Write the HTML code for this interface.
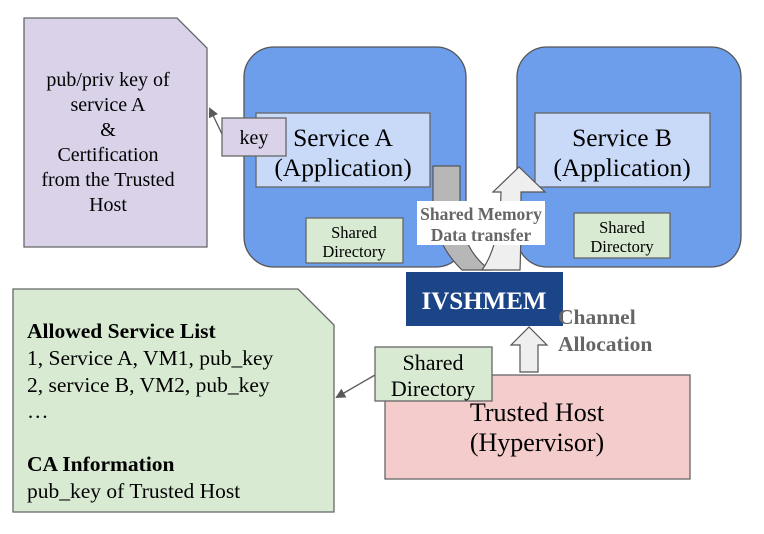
<!DOCTYPE html>
<html><head><meta charset="utf-8"><style>
body{margin:0;background:#fff;width:764px;height:529px;overflow:hidden}
svg text{font-family:"Liberation Serif",serif}
</style></head><body>
<svg width="764" height="529" viewBox="0 0 764 529" xmlns="http://www.w3.org/2000/svg">
<defs><marker id="ah" markerWidth="10" markerHeight="10" refX="8" refY="5" orient="auto" markerUnits="userSpaceOnUse"><path d="M0,0 L10,5 L0,10 Z" fill="#595959"/></marker></defs>
<!-- purple doc -->
<path d="M24,18 L177,18 L207,48 L207,247 L24,247 Z" fill="#d9d2e9" stroke="#666" stroke-width="1.3"/>
<g font-size="20" text-anchor="middle" fill="#000">
<text x="108" y="86">pub/priv key of</text>
<text x="108" y="111">service A</text>
<text x="108" y="136">&amp;</text>
<text x="108" y="161">Certification</text>
<text x="108" y="186">from the Trusted</text>
<text x="108" y="211">Host</text>
</g>
<!-- Service A -->
<rect x="244" y="47" width="222" height="220" rx="30" fill="#6d9eeb" stroke="#555" stroke-width="1.3"/>
<rect x="256" y="113" width="174" height="74" fill="#c9daf8" stroke="#666" stroke-width="1.3"/>
<text x="343" y="146" font-size="25.5" text-anchor="middle">Service A</text>
<text x="343" y="176" font-size="25.5" text-anchor="middle">(Application)</text>
<line x1="222" y1="134" x2="210" y2="109" stroke="#595959" stroke-width="1.3" marker-end="url(#ah)"/>
<rect x="222" y="118" width="64" height="38" fill="#d9d2e9" stroke="#666" stroke-width="1.3"/>
<text x="254" y="144" font-size="20" text-anchor="middle">key</text>
<rect x="306" y="218" width="97" height="45" fill="#d9ead3" stroke="#666" stroke-width="1.3"/>
<text x="354" y="238" font-size="16.5" text-anchor="middle">Shared</text>
<text x="354" y="257" font-size="16.5" text-anchor="middle">Directory</text>
<!-- Service B -->
<rect x="517" y="47" width="224" height="220" rx="30" fill="#6d9eeb" stroke="#555" stroke-width="1.3"/>
<rect x="535" y="113" width="175" height="74" fill="#c9daf8" stroke="#666" stroke-width="1.3"/>
<text x="622" y="146" font-size="25.5" text-anchor="middle">Service B</text>
<text x="622" y="176" font-size="25.5" text-anchor="middle">(Application)</text>
<rect x="574" y="213" width="96" height="45" fill="#d9ead3" stroke="#666" stroke-width="1.3"/>
<text x="622" y="233" font-size="16.5" text-anchor="middle">Shared</text>
<text x="622" y="252" font-size="16.5" text-anchor="middle">Directory</text>
<!-- curved arrows -->
<path d="M433,166 L460,166 L460,210 Q462,250 490,270 L462,270 Q436,245 433,210 Z" fill="#b7b7b7" stroke="#555" stroke-width="1.2"/>
<path d="M482,270 Q500,245 501,192 L493,192 L519,167 L545,192 L521,192 Q521,245 520,270 Z" fill="#efefef" stroke="#555" stroke-width="1.2"/>
<rect x="417" y="201" width="128" height="44" fill="#fff"/>
<text x="481" y="220" font-size="17.5" font-weight="bold" fill="#666" text-anchor="middle">Shared Memory</text>
<text x="481" y="241" font-size="17.5" font-weight="bold" fill="#666" text-anchor="middle">Data transfer</text>
<!-- IVSHMEM -->
<rect x="406" y="272" width="157" height="54" fill="#1c4587"/>
<text x="484" y="309" font-size="25" font-weight="bold" fill="#fff" text-anchor="middle">IVSHMEM</text>
<text x="558" y="324" font-size="21.5" font-weight="bold" fill="#666">Channel</text>
<text x="558" y="351" font-size="21.5" font-weight="bold" fill="#666">Allocation</text>
<path d="M520,372 L520,345 L511,345 L529,327 L547,345 L538,345 L538,372 Z" fill="#efefef" stroke="#555" stroke-width="1.2"/>
<!-- Trusted host -->
<rect x="385" y="375" width="305" height="104" fill="#f4cccc" stroke="#666" stroke-width="1.3"/>
<text x="537" y="421" font-size="26" text-anchor="middle">Trusted Host</text>
<text x="537" y="451" font-size="26" text-anchor="middle">(Hypervisor)</text>
<!-- green doc -->
<path d="M13,289 L298,289 L334,325 L334,512 L13,512 Z" fill="#d9ead3" stroke="#666" stroke-width="1.3"/>
<line x1="375" y1="375" x2="337" y2="397" stroke="#595959" stroke-width="1.3" marker-end="url(#ah)"/>
<rect x="375" y="347" width="117" height="54" fill="#d9ead3" stroke="#666" stroke-width="1.3"/>
<text x="433" y="370" font-size="22" text-anchor="middle">Shared</text>
<text x="433" y="396" font-size="22" text-anchor="middle">Directory</text>
<g font-size="21.5">
<text x="27" y="338" font-weight="bold">Allowed Service List</text>
<text x="27" y="365">1, Service A, VM1, pub_key</text>
<text x="27" y="392">2, service B, VM2, pub_key</text>
<text x="27" y="418">…</text>
<text x="27" y="471" font-weight="bold">CA Information</text>
<text x="27" y="498">pub_key of Trusted Host</text>
</g>
</svg>
</body></html>
